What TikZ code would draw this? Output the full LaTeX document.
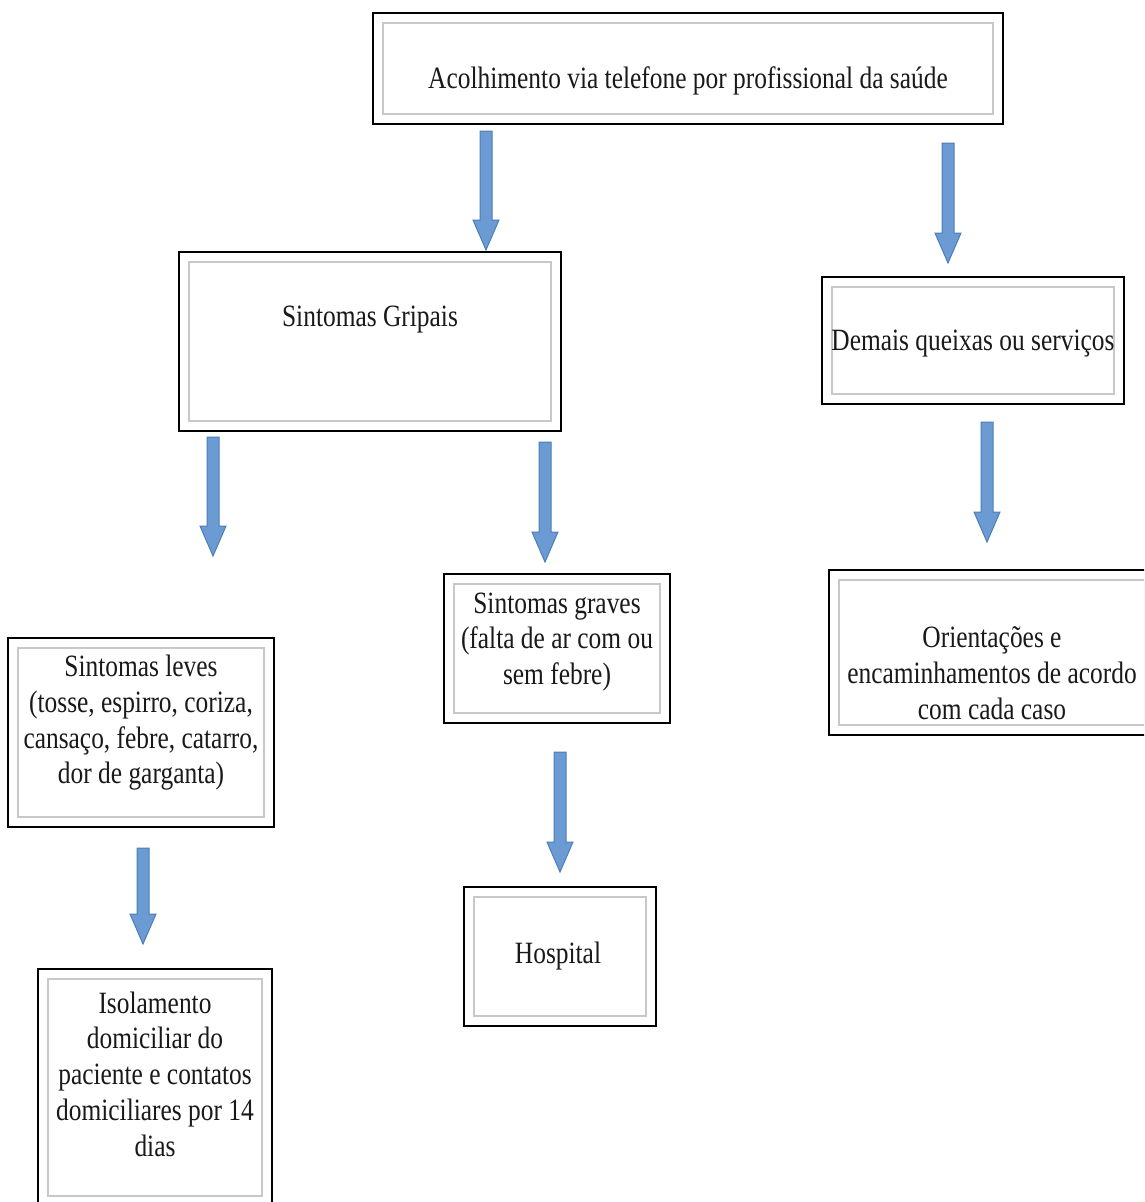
\documentclass[tikz,border=0pt]{standalone}
\usepackage{fontspec}
\setmainfont{Liberation Serif}[FakeStretch=0.82]
\usepackage{tikz}
\usetikzlibrary{calc}

\definecolor{arrowfill}{HTML}{6C9AD2}
\definecolor{arrowedge}{HTML}{4A7EBB}
\definecolor{innergray}{HTML}{C8C8C8}

% block arrow between two named points (top of shaft, tip)
\newcommand\flowarrow[2]{%
  \draw[blockarrow] let \p1=(#1), \p2=(#2) in
    (\x1-6pt,\y1) -- (\x1+6pt,\y1) -- (\x1+6pt,\y2+30pt) -- (\x1+13pt,\y2+30pt)
    -- (\x2,\y2) -- (\x1-13pt,\y2+30pt) -- (\x1-6pt,\y2+30pt) -- cycle;}

\begin{document}
\begin{tikzpicture}[x=1pt,y=-1pt,
	box/.style={draw=black,line width=2pt,fill=white,inner sep=0pt,
		path picture={\draw[innergray,line width=2pt]
			([shift={(10pt,-10pt)}]path picture bounding box.north west) rectangle
			([shift={(-10pt,10pt)}]path picture bounding box.south east);}},
	txt/.style={align=center,text=black!90,inner sep=0pt,yshift=-3pt,
		font=\fontsize{31}{35.7}\selectfont},
	blockarrow/.style={fill=arrowfill,draw=arrowedge,line width=1pt}]
	
	\clip (0,0) rectangle (1144,1202);
	
	\node[box,minimum width=630,minimum height=111,
		label={[txt,yshift=-9.5pt]center:Acolhimento via telefone por profissional da saúde}]
		(acolh) at (688,68.5) {};
	\node[box,minimum width=382,minimum height=179,
		label={[txt,yshift=24.5pt]center:Sintomas Gripais}]
		(gripais) at (370,341.5) {};
	\node[box,minimum width=302,minimum height=127,
		label={[txt]center:Demais queixas ou serviços}]
		(demais) at (973,340.5) {};
	\node[box,minimum width=266,minimum height=189,
		label={[txt,yshift=12.5pt]center:Sintomas leves\\(tosse, espirro, coriza,\\cansaço, febre, catarro,\\dor de garganta)}]
		(leves) at (141,732.5) {};
	\node[box,minimum width=226,minimum height=149,
		label={[txt,yshift=9.5pt]center:Sintomas graves\\(falta de ar com ou\\sem febre)}]
		(graves) at (557,648.5) {};
	\node[box,minimum width=326,minimum height=165,
		label={[txt,yshift=-17.5pt]center:Orientações e\\encaminhamentos de acordo\\com cada caso}]
		(orient) at (992,652.5) {};
	\node[box,minimum width=234,minimum height=237,
		label={[txt,yshift=16.5pt]center:Isolamento\\domiciliar do\\paciente e contatos\\domiciliares por 14\\dias}]
		(isol) at (155,1087.5) {};
	\node[box,minimum width=192,minimum height=139,
		label={[txt,yshift=3.5pt,xshift=-2pt]center:Hospital}]
		(hosp) at (560,956.5) {};
	
	% arrow ends
	\coordinate (a1) at (486,131);  \coordinate (b1) at (486,250);
	\coordinate (a2) at (948,143);  \coordinate (b2) at (948,263);
	\coordinate (a3) at (213,437);  \coordinate (b3) at (213,556);
	\coordinate (a4) at (545,442);  \coordinate (b4) at (545,562);
	\coordinate (a5) at (987,422);  \coordinate (b5) at (987,542);
	\coordinate (a6) at (143,848);  \coordinate (b6) at (143,944);
	\coordinate (a7) at (560,752);  \coordinate (b7) at (560,872);
	
	\foreach \i in {1,...,7}
		\flowarrow{a\i}{b\i};
\end{tikzpicture}
\end{document}
